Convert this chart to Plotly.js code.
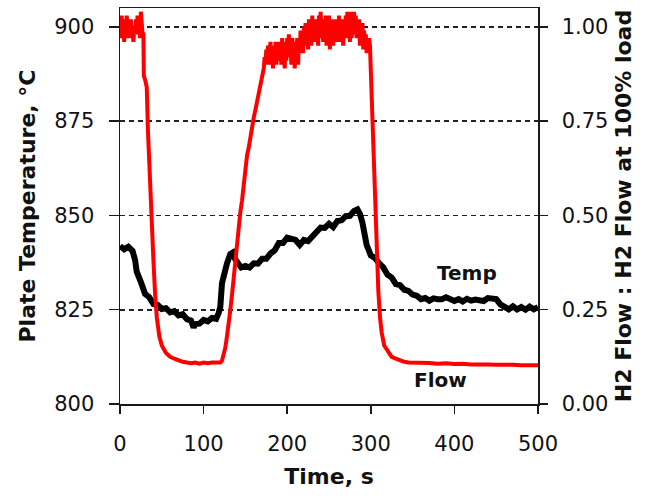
<!DOCTYPE html>
<html>
<head>
<meta charset="utf-8">
<script src="https://cdn.plot.ly/plotly-3.0.1.min.js"></script>
<style>html,body{margin:0;padding:0;background:#fff;}</style>
</head>
<body>
<div id="chart" style="width:651px;height:498px;"></div>
<script>
// Time (s) and plate temperature (°C)
var tempTime = [0,5,10,15,18,20,25,30,35,40,45,50,55,60,65,70,75,80,85,88,90,95,100,105,110,115,118,120,122,125,128,132,135,138,140,145,150,155,160,165,170,175,180,185,190,195,200,205,210,215,220,225,230,235,240,245,250,255,260,265,270,275,280,284,287,290,292,295,300,305,310,315,320,325,330,335,340,345,350,355,360,365,370,375,380,385,390,395,400,405,410,415,420,425,430,435,440,445,450,455,460,465,470,475,480,485,490,495,500];
var tempValue = [841.9,841.0,841.7,840.6,838.2,835.1,832.3,829.2,828.3,826.5,826.3,825.2,825.4,824.3,824.6,823.5,823.8,822.5,822.1,820.3,821.2,821.3,822.3,821.9,822.8,822.6,824.1,825.8,832.0,835.8,837.3,839.8,840.2,838.3,837.8,836.2,836.6,836.2,837.3,837.2,838.5,838.5,839.9,840.7,842.7,842.7,844.1,843.7,843.5,842.2,843.5,843.2,844.3,845.2,846.8,846.7,847.8,846.9,848.5,848.7,849.8,849.9,851.2,851.6,850.4,848.1,845.1,842.2,839.4,838.7,837.3,836.2,834.3,833.5,831.8,831.5,830.3,830.0,829.0,828.7,827.8,828.1,827.4,828.0,827.8,827.8,828.3,827.8,827.3,827.8,827.2,827.9,827.4,827.7,827.6,827.3,828.1,827.8,827.8,826.4,825.7,825.1,825.9,825.1,825.7,825.0,825.8,825.1,825.7];

// Time (s) and H2 flow ratio
var flowTime = [0,1,2,3,4,5,6,7,8,9,10,11,12,13,14,15,16,17,18,19,20,21,22,23,24,25,26,27,28,28.5,30,32,33.5,35,36.5,38,40,42,44,47,50,55,60,65,70,75,80,85,90,95,100,105,110,115,120,122,124,126,128,130,132,134,136,138,140,142,144,146,148,150,152,154,156,158,160,162,164,166,168,170,
  172,173,174,175,176,177,178,179,180,181,182,183,184,185,186,187,188,189,190,191,192,193,194,195,196,197,198,199,200,201,202,203,204,205,206,207,208,209,210,211,212,213,214,215,216,217,218,219,220,221,222,223,224,225,226,227,228,229,230,231,232,233,234,235,236,237,238,239,240,241,242,243,244,245,246,247,248,249,250,251,252,253,254,255,256,257,258,259,260,261,262,263,264,265,266,267,268,269,270,271,272,273,274,275,276,277,278,279,280,281,282,283,284,285,286,287,288,289,290,291,292,293,294,295,296,297,298,
  299,300,301,302,303,305,307,309,311,313,316,320,325,330,335,340,345,350,360,370,380,390,400,410,420,430,440,450,460,470,480,490,500];
var flowValue = [1.00,0.97,1.03,0.98,1.01,0.96,1.02,0.97,1.03,0.99,0.97,1.01,0.98,1.02,0.97,1.00,0.96,0.99,0.98,1.02,0.99,1.03,0.98,1.00,0.97,1.04,0.99,0.98,0.98,0.87,0.86,0.84,0.72,0.63,0.55,0.46,0.38,0.29,0.23,0.18,0.155,0.135,0.125,0.12,0.115,0.112,0.11,0.108,0.11,0.107,0.11,0.108,0.11,0.109,0.11,0.115,0.13,0.15,0.18,0.21,0.25,0.29,0.34,0.39,0.43,0.47,0.51,0.54,0.59,0.63,0.66,0.68,0.71,0.74,0.76,0.78,0.80,0.82,0.84,0.86,
  0.89,0.92,0.90,0.94,0.91,0.95,0.90,0.93,0.96,0.91,
  0.94,0.89,0.95,0.92,0.96,0.90,0.94,0.91,0.96,0.92,
  0.95,0.90,0.97,0.92,0.94,0.89,0.96,0.91,0.97,0.93,
  0.98,0.92,0.95,0.90,0.97,0.93,0.96,0.89,0.95,0.92,
  0.97,0.90,0.96,0.93,0.99,0.94,0.98,0.93,1.00,0.95,
  1.01,0.96,1.00,0.94,1.02,0.97,1.01,0.95,1.03,0.97,
  1.00,0.96,1.02,0.97,1.01,0.95,1.03,0.98,1.04,0.97,
  1.02,0.96,1.01,0.98,1.03,0.95,1.00,0.97,1.03,0.94,
  1.01,0.96,1.02,0.95,1.00,0.97,1.02,0.96,1.01,0.98,
  1.03,0.96,1.00,0.97,1.02,0.95,1.01,0.98,1.03,0.97,
  1.04,0.98,1.02,0.96,1.04,0.97,1.02,0.99,1.04,0.98,
  1.03,0.97,1.01,0.98,1.02,0.95,1.00,0.97,1.01,0.94,
  0.99,0.95,0.98,0.93,0.97,0.94,0.97,
  0.95,0.88,0.80,0.74,0.64,0.55,0.42,0.30,0.23,0.19,0.155,0.14,0.125,0.12,0.115,0.112,0.11,0.11,0.108,0.109,0.107,0.108,0.106,0.107,0.105,0.106,0.105,0.104,0.105,0.104,0.103,0.104,0.103];

var xTicks = [0,100,200,300,400,500];
var yTicks = [800,825,850,875,900];
var y2Ticks = [0,0.25,0.5,0.75,1.0];
var y2TickText = ['0.00','0.25','0.50','0.75','1.00'];

var FONT = '"DejaVu Sans", Verdana, sans-serif';
var AX = '#1a1a1a';

var traces = [
  {x: flowTime, y: flowValue, type: 'scatter', mode: 'lines', yaxis: 'y2',
   line: {color: '#ff0000', width: 4}, hoverinfo: 'skip', showlegend: false},
  {x: tempTime, y: tempValue, type: 'scatter', mode: 'lines', yaxis: 'y',
   line: {color: '#000000', width: 6}, hoverinfo: 'skip', showlegend: false}
];

var layout = {
  width: 651, height: 498,
  margin: {l: 120, r: 113, t: 8, b: 94},
  paper_bgcolor: '#ffffff', plot_bgcolor: '#ffffff',
  font: {family: FONT, color: '#111', size: 21},
  showlegend: false,
  xaxis: {
    range: [0, 500], tickvals: xTicks, ticks: 'outside', ticklen: 8, tickwidth: 1.5, tickcolor: AX,
    showline: true, linecolor: AX, linewidth: 1.5, mirror: true, showgrid: false, zeroline: false,
    tickfont: {family: FONT, size: 21, color: '#111'}, ticklabelstandoff: 12,
    title: {text: '<b>Time, s</b>', font: {family: FONT, size: 22, color: '#111'}, standoff: 14}
  },
  yaxis: {
    range: [800, 905], tickvals: yTicks, ticks: 'outside', ticklen: 10, tickwidth: 1.5, tickcolor: AX,
    showline: true, linecolor: AX, linewidth: 1.5, mirror: false, zeroline: false,
    showgrid: true, gridcolor: '#222', gridwidth: 1.6, griddash: '5px,4px',
    tickfont: {family: FONT, size: 21, color: '#111'}, ticklabelstandoff: 10,
    title: {text: '<b>Plate Temperature, °C</b>', font: {family: FONT, size: 22, color: '#111'}, standoff: 12}
  },
  yaxis2: {
    range: [0, 1.05], tickvals: y2Ticks, ticktext: y2TickText, overlaying: 'y', side: 'right',
    ticks: 'outside', ticklen: 8, tickwidth: 1.5, tickcolor: AX,
    showline: true, linecolor: AX, linewidth: 1.5, showgrid: false, zeroline: false,
    tickfont: {family: FONT, size: 21, color: '#111'}, ticklabelstandoff: 10,
    title: {text: '<b>H2 Flow : H2 Flow at 100% load</b>', font: {family: FONT, size: 22, color: '#111'}, standoff: 8}
  },
  annotations: [
    {x: 415, y: 834.7, xref: 'x', yref: 'y', text: '<b>Temp</b>', showarrow: false,
     font: {family: FONT, size: 20, color: '#111'}},
    {x: 383, y: 806.4, xref: 'x', yref: 'y', text: '<b>Flow</b>', showarrow: false,
     font: {family: FONT, size: 20, color: '#111'}}
  ]
};

Plotly.newPlot('chart', traces, layout, {staticPlot: true, displayModeBar: false});
</script>
</body>
</html>
